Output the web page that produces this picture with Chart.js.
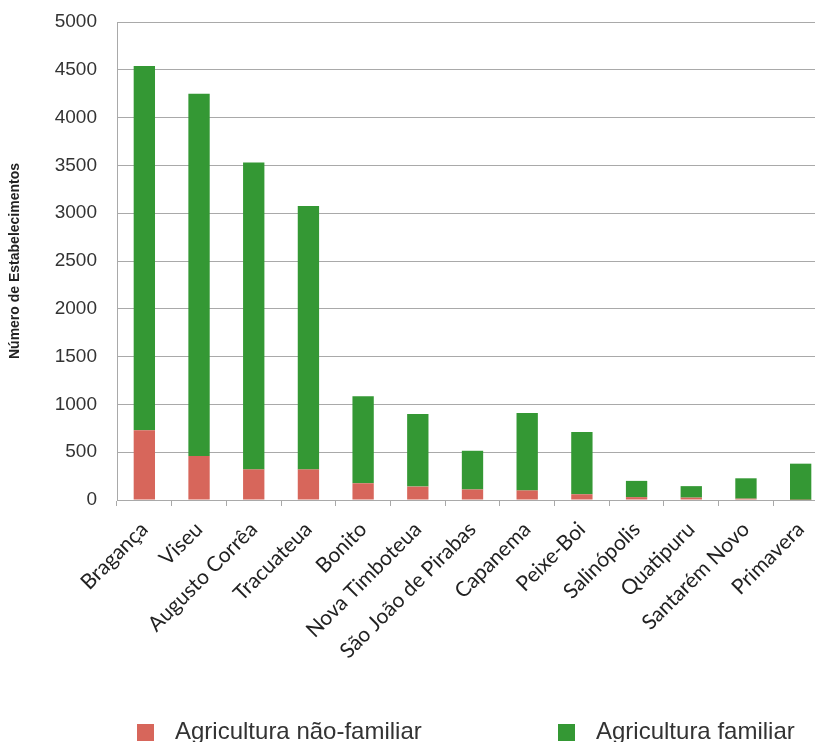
<!DOCTYPE html>
<html>
<head>
<meta charset="utf-8">
<script src="https://cdn.jsdelivr.net/npm/chart.js@4.4.1/dist/chart.umd.min.js"></script>
<style>
  html, body { margin: 0; padding: 0; background: #fff; overflow: hidden; }
  #wrap { position: relative; width: 815px; height: 742px; overflow: hidden; }
  #myChart { position: absolute; left: 0; top: 0; }
  #legend { position: absolute; left: 0; top: 0; width: 815px; height: 742px; pointer-events: none;
            font-family: "Liberation Sans", Arial, sans-serif; font-size: 24px; color: #333; }
  #legend .item { position: absolute; top: 719px; line-height: 24px; white-space: nowrap; }
  #legend .box { position: absolute; left: 0; top: 5px; width: 17px; height: 17px; }
  #legend .txt { position: absolute; left: 38px; top: 0; }
</style>
</head>
<body>
<div id="wrap">
  <canvas id="myChart" width="830" height="742"></canvas>
  <div id="legend"></div>
</div>
<script>
// municípios e número de estabelecimentos por tipo de agricultura
var municipios = ['Bragança', 'Viseu', 'Augusto Corrêa', 'Tracuateua', 'Bonito', 'Nova Timboteua',
  'São João de Pirabas', 'Capanema', 'Peixe-Boi', 'Salinópolis', 'Quatipuru', 'Santarém Novo', 'Primavera'];
var naoFamiliar = [730, 460, 320, 320, 175, 140, 110, 100, 60, 30, 25, 14, 2];
var familiar = [3810, 3790, 3210, 2755, 910, 760, 405, 810, 650, 170, 120, 213, 378];

var corNaoFamiliar = '#d7665b';
var corFamiliar = '#349834';
var gridColor = '#a9a9a9';

const data = {
  labels: municipios,
  datasets: [
    {
      label: 'Agricultura não-familiar',
      data: naoFamiliar,
      backgroundColor: corNaoFamiliar,
      barPercentage: 0.39,
      categoryPercentage: 1
    },
    {
      label: 'Agricultura familiar',
      data: familiar,
      backgroundColor: corFamiliar,
      barPercentage: 0.39,
      categoryPercentage: 1
    }
  ]
};

const config = {
  type: 'bar',
  data: data,
  options: {
    responsive: false,
    animation: false,
    devicePixelRatio: 1,
    layout: { padding: { top: 22, right: 2, bottom: 0, left: 0 } },
    plugins: {
      legend: { display: false },
      tooltip: { enabled: false }
    },
    scales: {
      x: {
        stacked: true,
        afterFit: function(scale) { scale.height = 242; },
        grid: { drawOnChartArea: false, drawTicks: true, tickLength: 6, color: gridColor },
        border: { color: gridColor },
        ticks: {
          autoSkip: false,
          minRotation: 45,
          maxRotation: 45,
          padding: 11,
          color: '#222',
          font: { family: 'Lato', size: 21 }
        }
      },
      y: {
        stacked: true,
        min: 0,
        max: 5000,
        afterFit: function(scale) { scale.width = 117; },
        // the tick marks are invisible, they only push the labels away from the axis
        grid: { color: gridColor, drawTicks: true, tickLength: 20, tickColor: 'rgba(0,0,0,0)' },
        border: { color: gridColor },
        ticks: {
          stepSize: 500,
          padding: 0,
          color: '#333',
          font: { family: 'Liberation Sans', size: 19 },
          callback: function(value) { return String(value); }
        },
        title: {
          display: true,
          text: 'Número de Estabelecimentos',
          color: '#222',
          padding: { top: 7, bottom: 0 },
          font: { family: 'Liberation Sans', size: 14, weight: 'bold' }
        }
      }
    }
  }
};

var myChart = new Chart(document.getElementById('myChart'), config);

// legenda em HTML, montada a partir dos datasets
var legendX = [137, 558];
var legendEl = document.getElementById('legend');
myChart.data.datasets.forEach(function(ds, i) {
  var item = document.createElement('div');
  item.className = 'item';
  item.style.left = legendX[i] + 'px';
  item.innerHTML = '<span class="box" style="background:' + ds.backgroundColor + '"></span>' +
                   '<span class="txt">' + ds.label + '</span>';
  legendEl.appendChild(item);
});
</script>
</body>
</html>
